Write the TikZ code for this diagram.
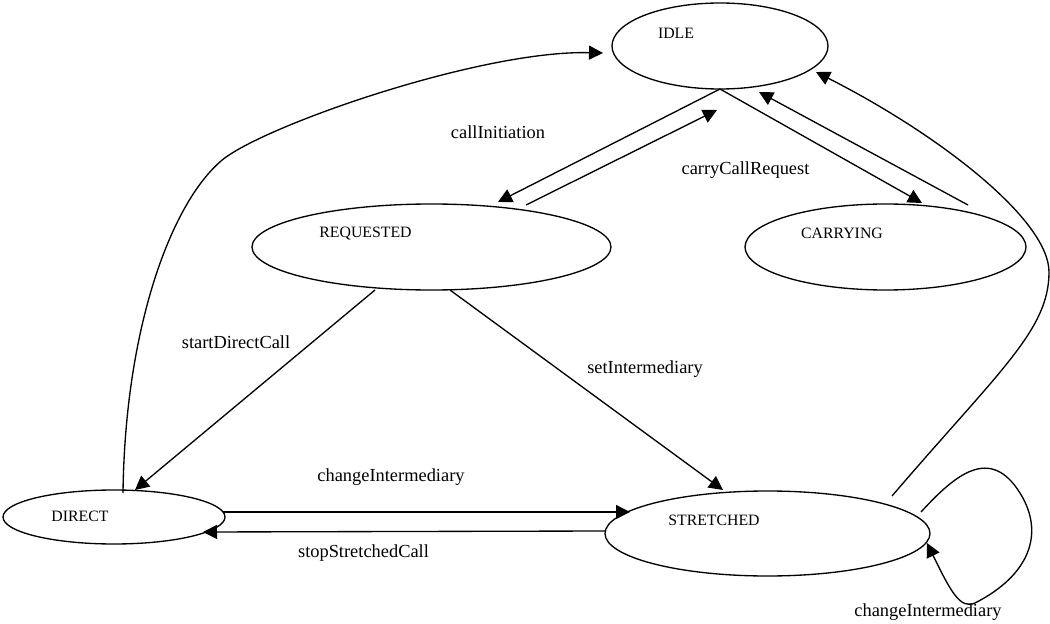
\documentclass[tikz,border=0pt]{standalone}
\usepackage{fontspec}
\setmainfont{Liberation Serif}
\usetikzlibrary{shapes.geometric,arrows.meta}
\begin{document}
\begin{tikzpicture}[x=0.75pt,y=-0.75pt,
  state/.style={ellipse,draw,line width=1pt,inner sep=0pt,outer sep=0pt},
  stxt/.style={font=\fontsize{11.85}{14}\selectfont,inner sep=0pt},
  etxt/.style={font=\fontsize{13.8}{16}\selectfont,inner sep=0pt},
  conn/.style={line width=1pt,-{Triangle[length=10.5pt,width=10.5pt]}},
  plain/.style={line width=1pt}
]
\useasboundingbox (0,0) rectangle (1050,624);
% states
\node[state,minimum width=162pt,minimum height=64.5pt] (idle) at (720,46) {};
\node[state,minimum width=269.25pt,minimum height=64.5pt] (req) at (431.5,247) {};
\node[state,minimum width=210.75pt,minimum height=64.5pt] (carry) at (885.5,247) {};
\node[state,minimum width=166.5pt,minimum height=40.5pt] (direct) at (114,517) {};
\node[state,minimum width=243.75pt,minimum height=63.75pt] (str) at (767.5,533.5) {};
% state texts
\node[stxt] (idle-t) at (676,33) {IDLE};
\node[stxt] (req-t) at (365.5,234) {REQUESTED};
\node[stxt] (carry-t) at (842,233) {CARRYING};
\node[stxt] (direct-t) at (80,516) {DIRECT};
\node[stxt] (str-t) at (714,520) {STRETCHED};
% connector end points
\coordinate (c1e) at (498,202);
\coordinate (c2s) at (526,205);
\coordinate (c2e) at (717,110);
\coordinate (c3e) at (922,203);
\coordinate (c4s) at (968,205);
\coordinate (c4e) at (759,92);
\coordinate (c5s) at (375,290);
\coordinate (c5e) at (135,490);
\coordinate (c6s) at (450,290);
\coordinate (c6e) at (723,490);
\coordinate (c7s) at (223,512);
\coordinate (c7e) at (630,512);
\coordinate (c8s) at (605,531);
\coordinate (c8e) at (203,532);
\coordinate (c9s) at (123,493);
\coordinate (c9m) at (221,161);
\coordinate (c9e) at (603,53);
\coordinate (c10s) at (892,496);
\coordinate (c10m) at (1049,272);
\coordinate (c10e) at (816,72);
\coordinate (c11s) at (921,512);
\coordinate (c11a) at (1020,493);
\coordinate (c11b) at (975,603);
\coordinate (c11e) at (927,543);
% connectors
\draw[conn] (idle.south) -- (c1e);
\draw[conn] (c2s) -- (c2e);
\draw[conn] (idle.south) -- (c3e);
\draw[conn] (c4s) -- (c4e);
\draw[conn] (c5s) -- (c5e);
\draw[conn] (c6s) -- (c6e);
\draw[conn] (c7s) -- (c7e);
\draw[conn] (c8s) -- (c8e);
\draw[conn] (c9s) .. controls (125,330) and (170,205) .. (c9m)
  .. controls (260,127) and (480,50) .. (c9e);
\draw[conn] (c10s) .. controls (1000,370) and (1049,330) .. (c10m)
  .. controls (1049,220) and (940,135) .. (c10e);
\draw[conn] (c11s) .. controls (955,475) and (990,445) .. (c11a)
  .. controls (1045,533) and (1030,575) .. (c11b)
  .. controls (960,610) and (950,590) .. (c11e);
% labels
\node[etxt] (l1) at (498,132) {callInitiation};
\node[etxt] (l2) at (745.5,170) {carryCallRequest};
\node[etxt] (l3) at (236,342) {startDirectCall};
\node[etxt] (l4) at (645,369) {setIntermediary};
\node[etxt] (l5) at (391,477) {changeIntermediary};
\node[etxt] (l6) at (363.5,553) {stopStretchedCall};
\node[etxt] (l7) at (928,612) {changeIntermediary};
\end{tikzpicture}
\end{document}
